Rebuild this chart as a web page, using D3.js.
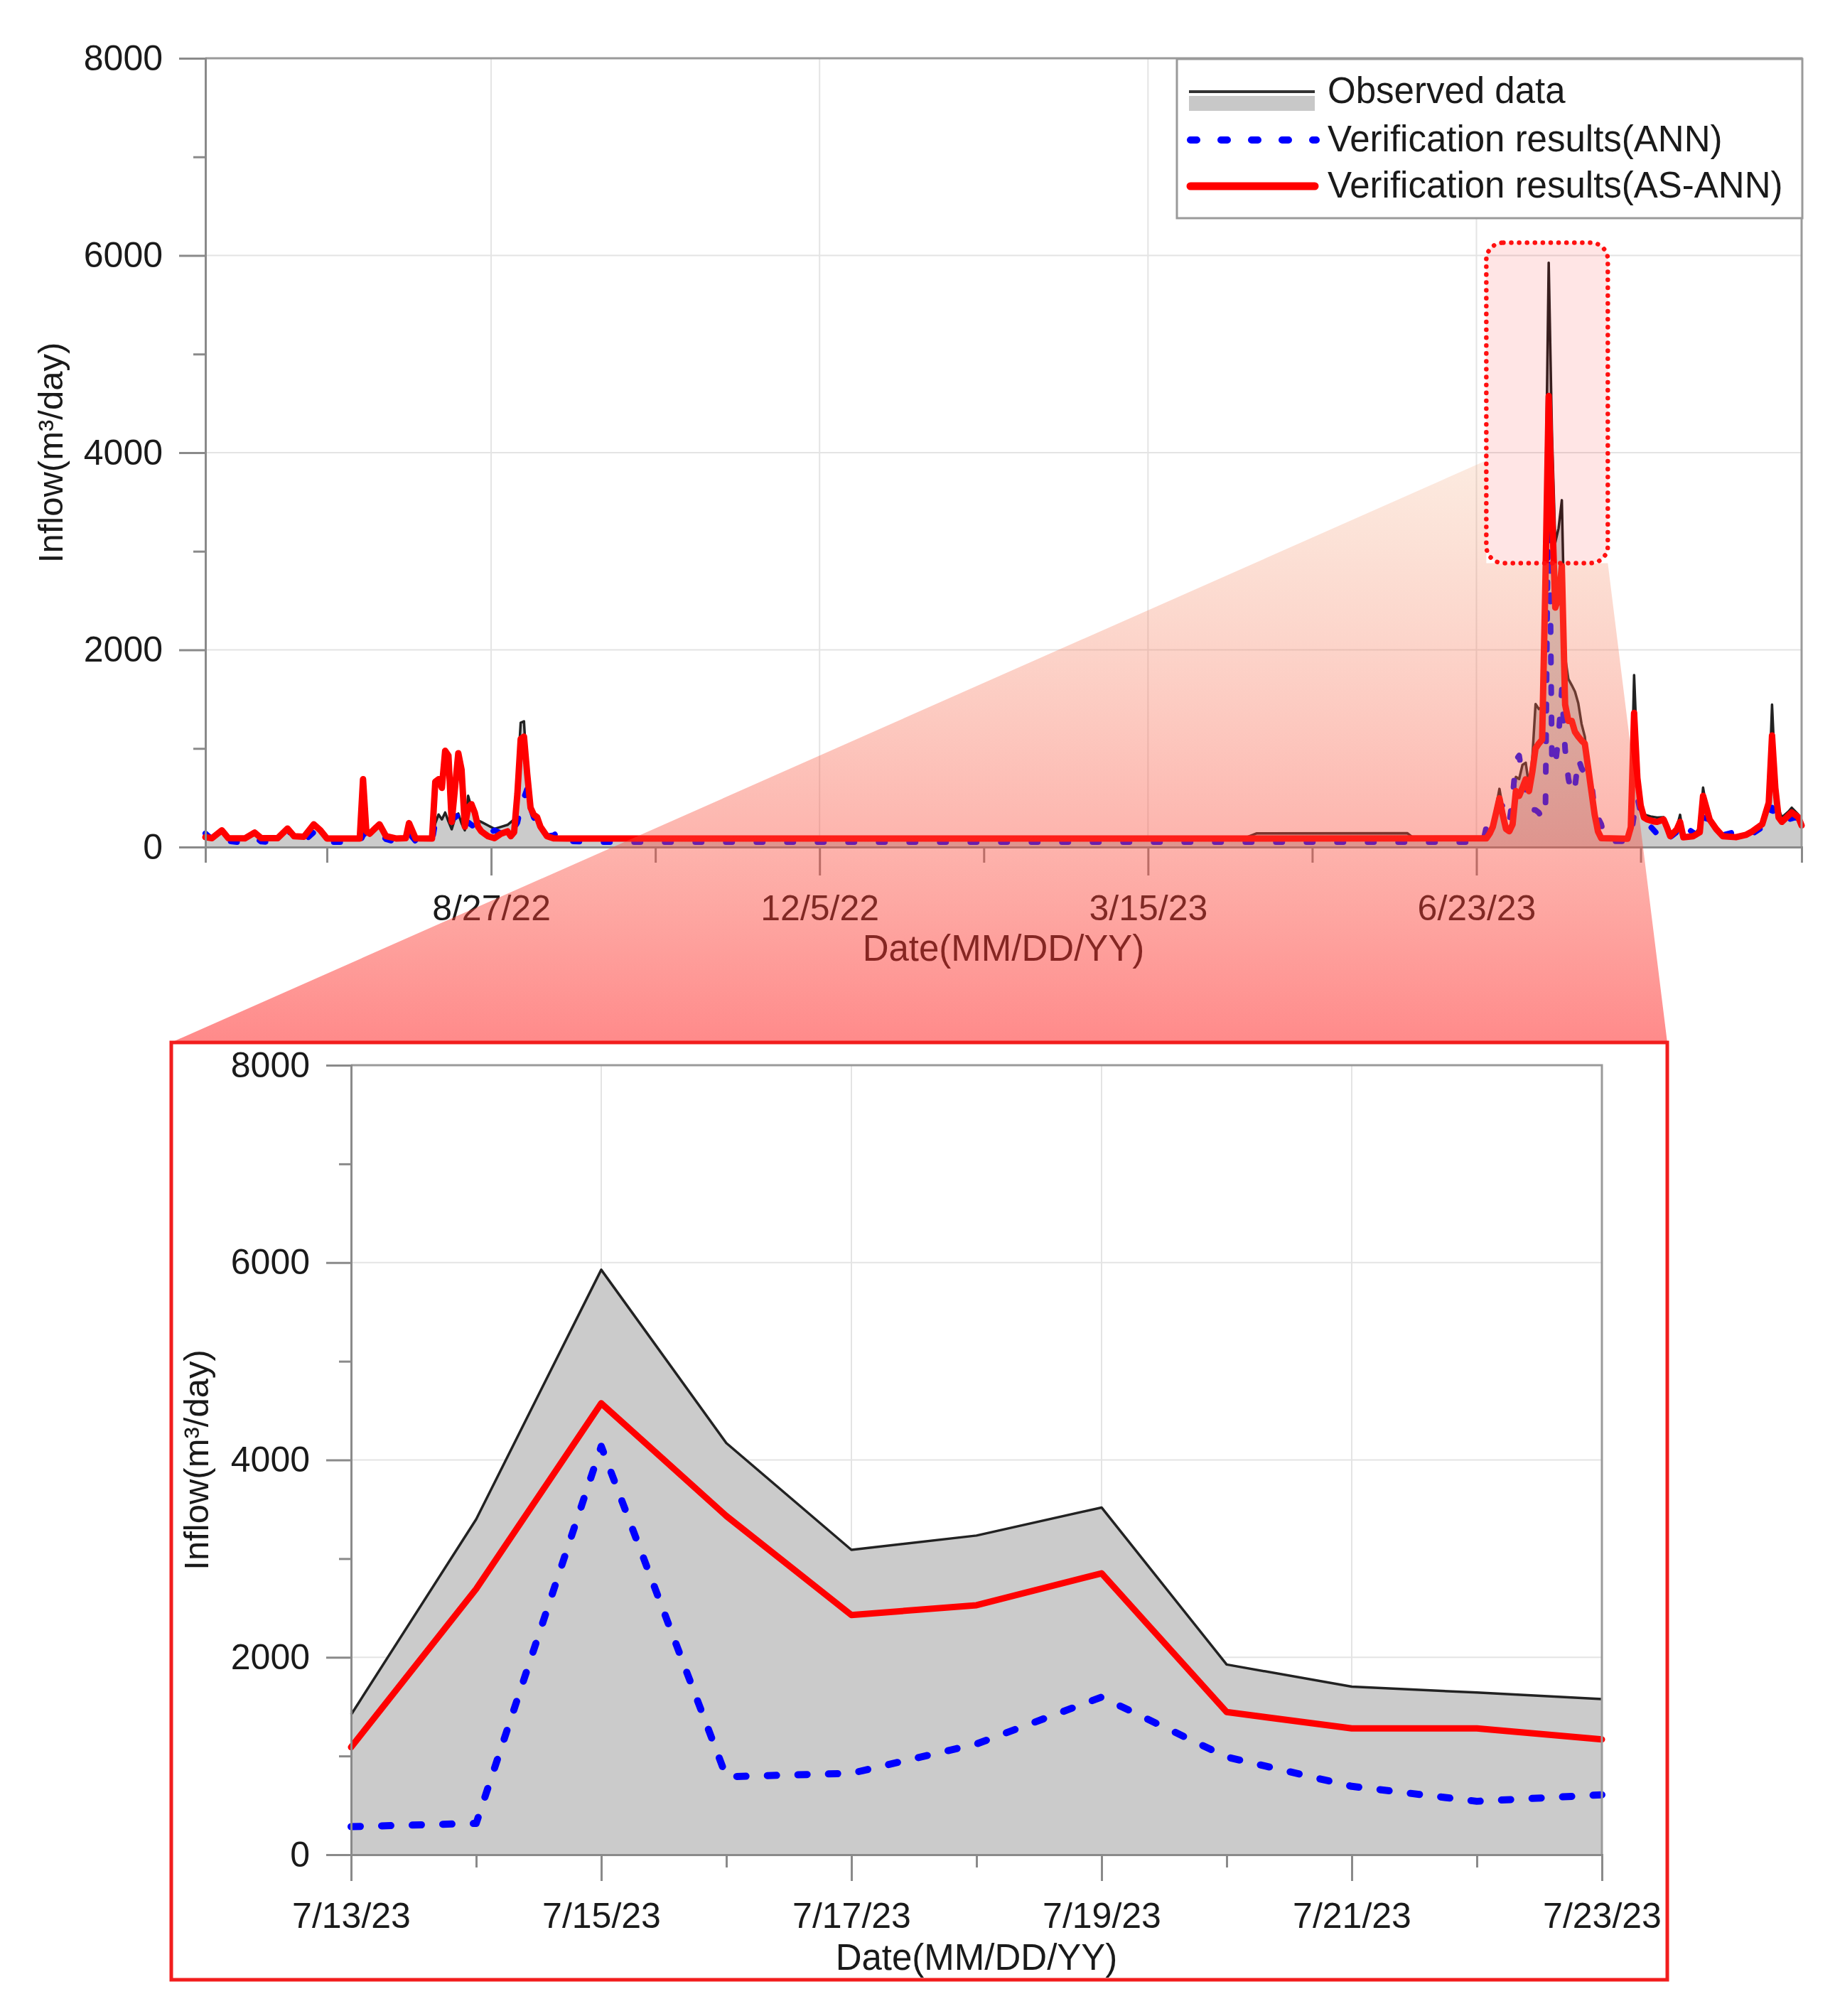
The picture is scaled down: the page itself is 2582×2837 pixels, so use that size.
<!DOCTYPE html>
<html>
<head>
<meta charset="utf-8">
<script src="https://cdn.jsdelivr.net/npm/d3@7"></script>
<style>
  body { margin: 0; background: #fff; }
  svg { display: block; }
  text { font-family: "Liberation Sans", Arial, sans-serif; fill: #1a1a1a; }
</style>
</head>
<body>
<div id="chart"></div>
<script>
// ---- data ----
// top panel: daily series, [day offset from 6/1/22, inflow]
const topStart = "6/1/22";
const topEnd = "9/30/23";
const topTicks = ["8/27/22", "12/5/22", "3/15/23", "6/23/23"];
const topMinorTicks = ["7/8/22", "10/16/22", "1/24/23", "5/4/23", "8/12/23"];

const observed = [
  [0,95],[2,85],[5,150],[7,85],[12,80],[15,140],[17,85],[22,85],[25,180],[27,100],[30,95],[33,220],[35,160],[37,85],
  [47,85],[48,680],[49,150],[50,140],[52,190],[53,220],[55,110],[58,85],[61,90],[62,230],[64,90],[69,85],
  [70,240],[71,330],[72,280],[73,350],[74,260],[75,180],[76,290],[77,340],[78,240],[79,170],[80,520],[81,400],
  [82,320],[83,270],[84,255],[86,220],[88,185],[90,205],[92,225],[94,280],[95,700],[96,1260],[97,1276],[98,700],
  [99,420],[100,330],[101,300],[102,210],[104,115],[106,90],[108,95],[110,85],[160,82],[220,80],[280,80],
  [316,85],[320,138],[366,140],[368,88],[389,85],[390,120],[391,160],[392,230],[394,590],[395,400],[396,210],
  [397,170],[398,280],[399,711],[400,690],[401,832],[402,855],[403,620],[404,900],[405,1450],[406,1400],
  [407,1419],[408,3399],[409,5927],[410,4171],[411,3089],[412,3234],[413,3518],[414,1927],[415,1703],[416,1643],
  [417,1577],[418,1460],[419,1250],[420,1120],[421,820],[422,570],[423,340],[424,170],[425,95],[426,85],[433,85],
  [434,300],[435,1745],[436,900],[437,400],[438,330],[440,310],[442,300],[444,303],[446,120],[448,200],[449,327],
  [450,110],[453,110],[455,200],[456,603],[457,400],[458,280],[460,185],[462,110],[466,110],[469,120],[471,160],
  [474,240],[476,500],[477,1445],[478,700],[479,380],[480,303],[482,360],[483,399],[485,330],[486,230]
];

const annResults = [
  [0,139],[2,80],[5,120],[7,60],[10,50],[15,100],[17,55],[20,50],[25,183],[27,80],[30,60],[33,150],[35,100],[37,50],
  [47,50],[48,120],[49,150],[50,135],[52,120],[53,150],[55,80],[58,50],[62,140],[64,60],[69,55],[70,250],[73,303],
  [74,280],[76,300],[77,327],[79,180],[80,250],[82,200],[84,160],[86,130],[88,170],[90,140],[93,120],[95,250],
  [96,400],[97,500],[98,591],[99,399],[100,300],[102,200],[104,110],[106,120],[108,159],[110,60],[120,50],
  [389,50],[390,200],[391,327],[393,380],[394,400],[395,423],[396,300],[397,250],[398,500],[399,880],[400,928],
  [401,711],[402,600],[403,400],[404,380],[405,375],[406,350],[407,284],[408,317],[409,4138],[410,825],[411,825],
  [412,1122],[413,1597],[414,990],[415,693],[416,541],[417,607],[418,900],[419,800],[420,750],[421,700],[422,660],
  [423,375],[424,300],[425,230],[426,100],[427,60],[433,60],[434,100],[435,327],[436,500],[437,350],[438,250],
  [440,207],[442,135],[444,200],[446,100],[449,180],[450,100],[452,170],[455,100],[456,300],[458,279],[460,170],
  [462,120],[465,147],[468,120],[471,135],[474,200],[476,231],[477,400],[478,300],[480,250],[482,280],[484,300],[486,280]
];

const asAnnResults = [
  [0,100],[2,90],[5,170],[7,90],[12,88],[15,147],[17,90],[22,90],[25,188],[27,110],[30,105],[33,231],[35,170],[37,87],
  [47,87],[48,688],[49,160],[50,135],[52,200],[53,231],[55,110],[58,87],[61,90],[62,243],[64,88],[69,87],[70,663],
  [71,688],[72,600],[73,976],[74,928],[75,255],[76,600],[77,952],[78,784],[79,207],[80,399],[81,435],[82,351],
  [83,207],[84,159],[86,110],[88,90],[90,135],[92,159],[93,110],[94,150],[95,543],[96,1096],[97,1120],[98,736],
  [99,399],[100,327],[101,303],[102,207],[104,110],[106,88],[110,86],[200,86],[300,86],[390,88],[391,135],[392,207],
  [393,350],[394,495],[395,327],[396,183],[397,160],[398,230],[399,567],[400,519],[401,600],[402,687],[403,567],
  [404,760],[405,1000],[406,1050],[407,1089],[408,2693],[409,4574],[410,3432],[411,2429],[412,2528],[413,2851],
  [414,1445],[415,1280],[416,1280],[417,1168],[418,1120],[419,1080],[420,1048],[421,808],[422,567],[423,327],
  [424,159],[425,90],[433,85],[434,200],[435,1360],[436,700],[437,423],[438,300],[439,279],[441,260],[442,255],
  [444,279],[445,200],[446,110],[448,180],[449,255],[450,99],[453,110],[455,150],[456,519],[457,400],[458,279],
  [460,183],[462,110],[466,100],[469,123],[471,159],[474,231],[476,450],[477,1132],[478,600],[479,300],[480,255],
  [482,320],[483,351],[485,303],[486,219]
];

// bottom panel: 7/13/23 - 7/23/23
const zoomDates = ["7/13/23","7/14/23","7/15/23","7/16/23","7/17/23","7/18/23","7/19/23","7/20/23","7/21/23","7/22/23","7/23/23"];
const zoomObserved = [1419, 3399, 5927, 4171, 3089, 3234, 3518, 1927, 1703, 1643, 1577];
const zoomANN      = [284, 317, 4138, 790, 825, 1122, 1597, 990, 693, 541, 607];
const zoomASANN    = [1089, 2693, 4574, 3432, 2429, 2528, 2851, 1445, 1280, 1280, 1168];
const zoomTicks = ["7/13/23","7/15/23","7/17/23","7/19/23","7/21/23","7/23/23"];
const zoomMinorTicks = ["7/14/23","7/16/23","7/18/23","7/20/23","7/22/23"];

const yTicks = [0, 2000, 4000, 6000, 8000];
const yMinorTicks = [1000, 3000, 5000, 7000];
const legendLabels = ["Observed data", "Verification results(ANN)", "Verification results(AS-ANN)"];

// ---- page ----
const W = 2582, H = 2837;
const parse = d3.timeParse("%m/%d/%y");
const fmt = d3.timeFormat("%-m/%-d/%y");
const FONT = 50;

const svg = d3.select("#chart").append("svg")
  .attr("width", W).attr("height", H)
  .attr("viewBox", `0 0 ${W} ${H}`);
svg.append("rect").attr("width", W).attr("height", H).attr("fill", "#fff");

const t0 = parse(topStart);
const toSeries = (arr) => arr.map(([d, v]) => ({ date: d3.timeDay.offset(t0, d), v }));

// draws one framed panel (grid, area, three lines, axes, titles)
function drawPanel(p) {
  const g = svg.append("g");
  const { x, y } = p;
  const [x0, x1] = x.range();
  const [yb, yt] = y.range();

  // grid
  g.append("g").selectAll("line")
    .data(p.ticks.slice(p.gridSkipFirst ? 1 : 0, p.gridSkipLast ? -1 : undefined))
    .join("line")
    .attr("x1", (d) => x(d)).attr("x2", (d) => x(d))
    .attr("y1", yt).attr("y2", yb)
    .attr("stroke", "#e4e4e4").attr("stroke-width", 2);
  g.append("g").selectAll("line").data(yTicks.slice(1, -1)).join("line")
    .attr("x1", x0).attr("x2", x1)
    .attr("y1", (d) => y(d)).attr("y2", (d) => y(d))
    .attr("stroke", "#e4e4e4").attr("stroke-width", 2);

  // observed area + lines
  const area = d3.area().x((d) => x(d.date)).y0(y(0)).y1((d) => y(d.v));
  const line = d3.line().x((d) => x(d.date)).y((d) => y(d.v));

  g.append("path").datum(p.obs).attr("d", area).attr("fill", "#cbcbcb");
  g.append("path").datum(p.obs).attr("d", line)
    .attr("fill", "none").attr("stroke", "#222").attr("stroke-width", p.blackW)
    .attr("stroke-linejoin", "round");
  g.append("path").datum(p.ann).attr("d", line)
    .attr("fill", "none").attr("stroke", "#0000ff").attr("stroke-width", p.blueW)
    .attr("stroke-dasharray", p.blueDash).attr("stroke-linecap", "round")
    .attr("stroke-linejoin", "round");
  g.append("path").datum(p.asAnn).attr("d", line)
    .attr("fill", "none").attr("stroke", "#ff0000").attr("stroke-width", p.redW)
    .attr("stroke-linejoin", "round").attr("stroke-linecap", "round");

  // frame (top + right)
  g.append("path")
    .attr("d", `M${x0},${yt}H${x1}V${yb}`)
    .attr("fill", "none").attr("stroke", "#9a9a9a").attr("stroke-width", 3);

  const styleAxis = (a) => {
    a.selectAll("path.domain").attr("stroke", "#8a8a8a").attr("stroke-width", 3);
    a.selectAll(".tick line").attr("stroke", "#8a8a8a").attr("stroke-width", 3);
    a.selectAll("text").style("font-size", FONT + "px")
      .style("font-family", '"Liberation Sans", Arial, sans-serif').attr("fill", "#1a1a1a");
  };

  // x axis
  const xMinor = g.append("g").attr("transform", `translate(0,${yb})`)
    .call(d3.axisBottom(x).tickValues(p.minorTicks).tickSize(p.xMinorLen).tickFormat(""));
  styleAxis(xMinor);
  const xAxis = g.append("g").attr("transform", `translate(0,${yb})`)
    .call(d3.axisBottom(x).tickValues(p.ticks).tickSize(p.xTickLen).tickSizeOuter(0)
      .tickPadding(p.xPad).tickFormat(fmt));
  styleAxis(xAxis);

  // y axis
  const yMinor = g.append("g").attr("transform", `translate(${x0},0)`)
    .call(d3.axisLeft(y).tickValues(yMinorTicks).tickSize(p.yMinorLen).tickFormat(""));
  styleAxis(yMinor);
  const yAxis = g.append("g").attr("transform", `translate(${x0},0)`)
    .call(d3.axisLeft(y).tickValues(yTicks).tickSize(p.yTickLen).tickSizeOuter(0)
      .tickPadding(p.yPad).tickFormat(d3.format("d")));
  styleAxis(yAxis);

  // titles
  g.append("text")
    .attr("x", (x0 + x1) / 2).attr("y", p.xTitleY)
    .attr("text-anchor", "middle").style("font-size", "51px")
    .text("Date(MM/DD/YY)");
  g.append("text")
    .attr("transform", `translate(${p.yTitleX},${(yb + yt) / 2}) rotate(-90)`)
    .attr("text-anchor", "middle").style("font-size", "49px")
    .text("Inflow(m³/day)");

  return g;
}

// ---- top panel ----
const xTop = d3.scaleTime().domain([parse(topStart), parse(topEnd)]).range([289, 2535]);
const yTop = d3.scaleLinear().domain([0, 8000]).range([1192, 82]);

drawPanel({
  x: xTop, y: yTop,
  obs: toSeries(observed), ann: toSeries(annResults), asAnn: toSeries(asAnnResults),
  ticks: topTicks.map(parse), minorTicks: topMinorTicks.map(parse),
  xTickLen: 40, xMinorLen: 22, xPad: 27,
  yTickLen: 37, yMinorLen: 17, yPad: 23,
  blackW: 3.5, blueW: 8, blueDash: "9 34", redW: 9,
  xTitleY: 1352, yTitleX: 88,
});

// legend
const lg = svg.append("g");
lg.append("rect").attr("x", 1656).attr("y", 83).attr("width", 880).attr("height", 224)
  .attr("fill", "#fff").attr("stroke", "#9a9a9a").attr("stroke-width", 3);
const rowY = [129, 197, 262];
lg.append("rect").attr("x", 1673).attr("y", rowY[0] + 6).attr("width", 177).attr("height", 21).attr("fill", "#c8c8c8");
lg.append("line").attr("x1", 1673).attr("x2", 1850).attr("y1", rowY[0]).attr("y2", rowY[0])
  .attr("stroke", "#333").attr("stroke-width", 4);
lg.append("line").attr("x1", 1675).attr("x2", 1852).attr("y1", rowY[1]).attr("y2", rowY[1])
  .attr("stroke", "#0000ff").attr("stroke-width", 10).attr("stroke-linecap", "round")
  .attr("stroke-dasharray", "9 34");
lg.append("line").attr("x1", 1675).attr("x2", 1850).attr("y1", rowY[2]).attr("y2", rowY[2])
  .attr("stroke", "#ff0000").attr("stroke-width", 11).attr("stroke-linecap", "round");
lg.selectAll("text").data(legendLabels).join("text")
  .attr("x", 1868).attr("y", (d, i) => rowY[i] + 16)
  .style("font-size", "51px").text((d) => d);

// ---- zoom connector ----
const boxX0 = xTop(d3.timeDay.offset(t0, 390));
const boxX1 = xTop(d3.timeDay.offset(t0, 427));
const boxY0 = yTop(6130);
const boxY1 = yTop(2880);
const panel = { x0: 241, y0: 1467, x1: 2346, y1: 2786 };

const defs = svg.append("defs");
const grad = defs.append("linearGradient").attr("id", "zoomFill")
  .attr("gradientUnits", "userSpaceOnUse")
  .attr("x1", 0).attr("y1", yTop(3920)).attr("x2", 0).attr("y2", panel.y0);
grad.append("stop").attr("offset", 0).attr("stop-color", "#f2a070").attr("stop-opacity", 0.22);
grad.append("stop").attr("offset", 1).attr("stop-color", "#ff1e1e").attr("stop-opacity", 0.52);

svg.append("path")
  .attr("d", `M${panel.x0},${panel.y0}L${boxX0},${yTop(3920)}L${boxX0},${boxY1}L${boxX1},${boxY1}L${panel.x1},${panel.y0}Z`)
  .attr("fill", "url(#zoomFill)");

svg.append("rect")
  .attr("x", boxX0).attr("y", boxY0)
  .attr("width", boxX1 - boxX0).attr("height", boxY1 - boxY0)
  .attr("rx", 24).attr("ry", 24)
  .attr("fill", "#ff0000").attr("fill-opacity", 0.1)
  .attr("stroke", "#ff1010").attr("stroke-width", 6.5)
  .attr("stroke-dasharray", "0.1 11").attr("stroke-linecap", "round");

// ---- bottom (zoomed) panel ----
svg.append("rect")
  .attr("x", panel.x0).attr("y", panel.y0)
  .attr("width", panel.x1 - panel.x0).attr("height", panel.y1 - panel.y0)
  .attr("fill", "#fff").attr("stroke", "#f21d1d").attr("stroke-width", 5);

const zd = zoomDates.map(parse);
const xZoom = d3.scaleTime().domain([zd[0], zd[zd.length - 1]]).range([494, 2254]);
const yZoom = d3.scaleLinear().domain([0, 8000]).range([2610, 1499]);

drawPanel({
  x: xZoom, y: yZoom,
  obs: zd.map((d, i) => ({ date: d, v: zoomObserved[i] })),
  ann: zd.map((d, i) => ({ date: d, v: zoomANN[i] })),
  asAnn: zd.map((d, i) => ({ date: d, v: zoomASANN[i] })),
  ticks: zoomTicks.map(parse), minorTicks: zoomMinorTicks.map(parse),
  gridSkipFirst: true, gridSkipLast: true,
  xTickLen: 37, xMinorLen: 18, xPad: 30,
  yTickLen: 35, yMinorLen: 17, yPad: 23,
  blackW: 3.5, blueW: 10, blueDash: "13 30", redW: 9,
  xTitleY: 2772, yTitleX: 293,
});
</script>
</body>
</html>
